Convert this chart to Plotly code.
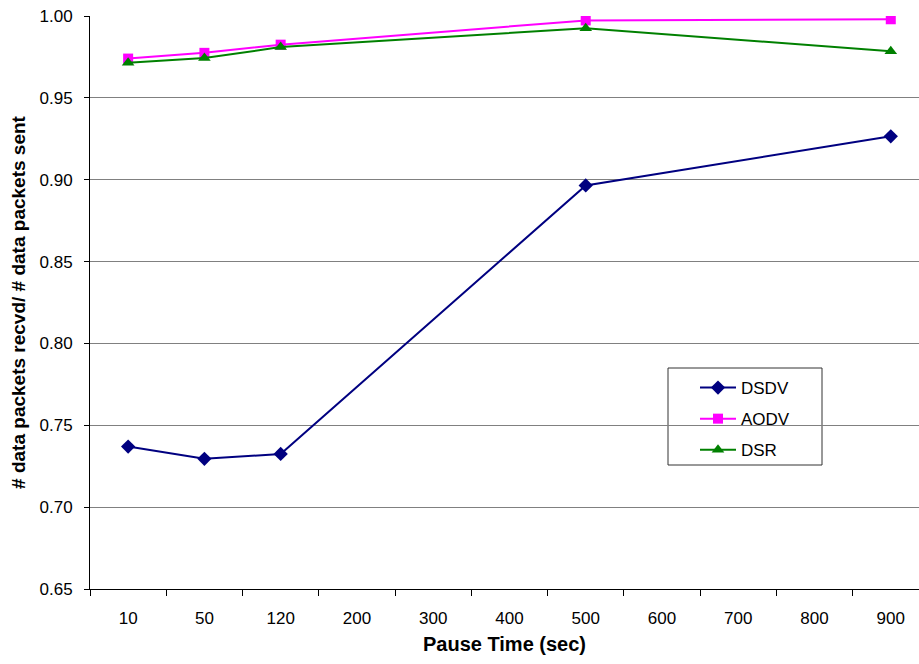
import plotly.graph_objects as go

categories = ["10", "50", "120", "200", "300", "400", "500", "600", "700", "800", "900"]
x_points = ["10", "50", "120", "500", "900"]
dsdv = [0.737, 0.7295, 0.7325, 0.8965, 0.9265]
aodv = [0.974, 0.9775, 0.9825, 0.9973, 0.9980]
dsr = [0.9715, 0.9743, 0.9810, 0.9925, 0.9785]
y_ticks = [0.65, 0.70, 0.75, 0.80, 0.85, 0.90, 0.95, 1.00]

FONT = "Liberation Sans, Arial, sans-serif"

PL, PT, PB = 90, 16, 589
W, H = 919, 664

def px(x):
    return (x - PL) / (W - PL)

def py(y):
    return (PB - y) / (PB - PT)

fig = go.Figure()
series = [
    ("DSDV", dsdv, "#000080", "diamond", 11),
    ("AODV", aodv, "#FF00FF", "square", 10),
    ("DSR", dsr, "#008000", "triangle-up", 11),
]
for i, (name, vals, col, sym, ms) in enumerate(series):
    fig.add_trace(go.Scatter(
        x=x_points, y=vals, name=name, mode="lines+markers",
        line=dict(color=col, width=2),
        marker=dict(symbol=sym, size=ms, color=col),
        legendgroup=name,
    ))

fig.update_layout(
    width=W, height=H,
    margin=dict(l=PL, r=0, t=PT, b=H - PB),
    paper_bgcolor="white", plot_bgcolor="white",
    font=dict(family=FONT, size=17, color="black"),
    showlegend=True,
    legend=dict(
        x=px(695), y=py(370), xanchor="left", yanchor="top",
        bgcolor="rgba(0,0,0,0)", borderwidth=0,
        font=dict(family=FONT, size=17, color="black"),
        tracegroupgap=6, traceorder="grouped", itemwidth=36,
    ),
    shapes=[dict(
        type="rect", xref="paper", yref="paper",
        x0=px(668), x1=px(822), y0=py(465), y1=py(368),
        line=dict(color="#333333", width=1), fillcolor="white", layer="below",
    )],
)
fig.update_xaxes(
    type="category", categoryorder="array", categoryarray=categories,
    range=[-0.5, 10.37], tickson="boundaries",
    ticks="outside", ticklen=6, tickcolor="black",
    showline=True, linecolor="black", linewidth=1,
    showgrid=False, zeroline=False, automargin=False,
    tickfont=dict(family=FONT, size=17), ticklabelstandoff=14,
    title=dict(text="<b>Pause Time (sec)</b>", font=dict(family=FONT, size=20), standoff=9),
)
fig.update_yaxes(
    range=[0.65, 1.0], tickvals=y_ticks, tickformat=".2f",
    ticks="outside", ticklen=5, tickcolor="black",
    showline=True, linecolor="black", linewidth=1,
    showgrid=True, gridcolor="#808080", gridwidth=1, zeroline=False, automargin=False,
    tickfont=dict(family=FONT, size=17), ticklabelstandoff=8, ticklabeloverflow="allow",
    title=dict(text="<b># data packets recvd/ # data packets sent</b>", font=dict(family=FONT, size=19), standoff=8),
)

fig.write_html(
    "out.html",
    config={"displayModeBar": False},
    post_script="document.body.style.margin='0px';document.body.style.overflow='hidden';",
)
